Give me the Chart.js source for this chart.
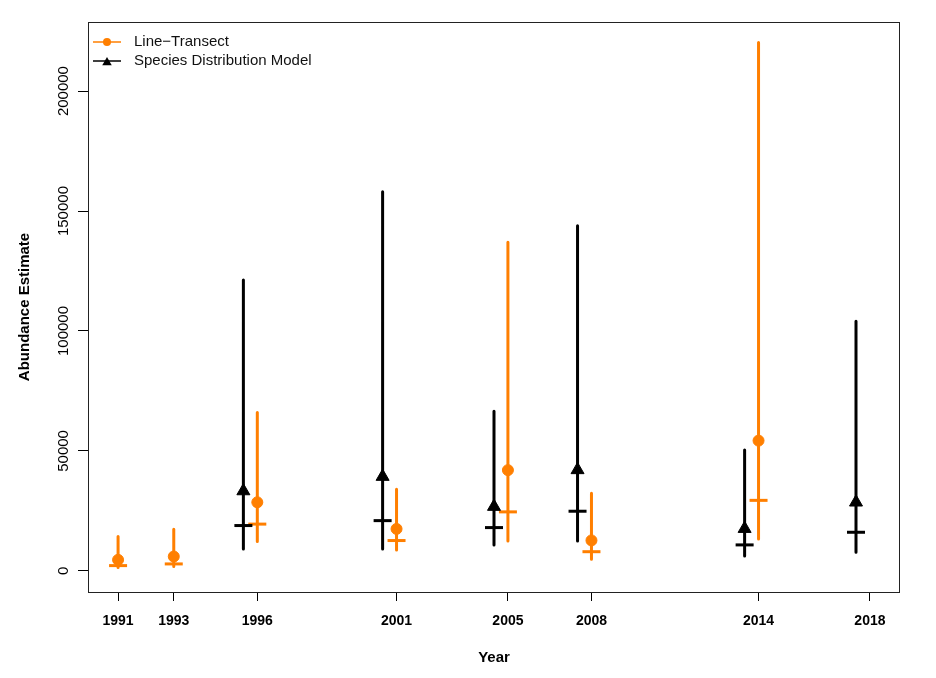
<!DOCTYPE html>
<html>
<head>
<meta charset="utf-8">
<script src="https://cdn.jsdelivr.net/npm/chart.js@4.4.1/dist/chart.umd.min.js"></script>
<style>
  html, body { margin: 0; padding: 0; background: #fff; }
  #wrap { width: 936px; height: 678px; }
</style>
</head>
<body>
<div id="wrap"><canvas id="grafico" width="936" height="678"></canvas></div>
<script>
// Anos de amostragem (eixo x)
const anos = [1991, 1993, 1996, 2001, 2005, 2008, 2014, 2018];
const yTicks = [0, 50000, 100000, 150000, 200000];

// Line-Transect
const anosLT = [1991, 1993, 1996, 2001, 2005, 2008, 2014];
const mediaLT = [4600, 6000, 28600, 17500, 42000, 12700, 54300];
const medianaLT = [2200, 2900, 19500, 12650, 24600, 8000, 29400];
const inferiorLT = [1400, 1800, 12200, 8750, 12500, 4900, 13300];
const superiorLT = [14300, 17400, 66000, 34000, 137000, 32400, 220300];

// Species Distribution Model
const anosSDM = [1996, 2001, 2005, 2008, 2014, 2018];
const mediaSDM = [33300, 39300, 26800, 42100, 17600, 28600];
const medianaSDM = [18900, 20950, 18050, 24870, 10830, 16100];
const inferiorSDM = [9170, 9170, 10830, 12500, 6250, 7790];
const superiorSDM = [121250, 158000, 66500, 143900, 50400, 104100];

const nomeLT = 'Line\u2212Transect';
const nomeSDM = 'Species Distribution Model';

const laranja = '#FF7F00';
const preto = '#000000';
const fonte = "'Liberation Sans', Arial, sans-serif";
const desloc = -0.5; // SDM desenhado meio ano antes

// pares (x, inferior) -> (x, superior) separados por null
function segmentos(xs, lo, hi, dx) {
    const out = [];
    xs.forEach((x, i) => {
        out.push({ x: x + dx, y: lo[i] });
        out.push({ x: x + dx, y: hi[i] });
        out.push({ x: x + dx, y: null });
    });
    return out;
}
function pontos(xs, ys, dx) {
    return xs.map((x, i) => ({ x: x + dx, y: ys[i] }));
}

// Caixa em volta da área do gráfico
const caixa = {
    id: 'caixa',
    afterDraw(chart) {
        const a = chart.chartArea;
        const ctx = chart.ctx;
        ctx.save();
        ctx.strokeStyle = '#222';
        ctx.lineWidth = 1;
        ctx.strokeRect(Math.round(a.left) + 0.5, Math.round(a.top) + 0.5,
            Math.round(a.right - a.left) - 1, Math.round(a.bottom - a.top));
        ctx.restore();
    }
};

// Legenda no canto superior esquerdo (estilo R: linha + símbolo)
const legenda = {
    id: 'legenda',
    afterDraw(chart) {
        const a = chart.chartArea;
        const ctx = chart.ctx;
        const itens = [
            { texto: nomeLT, cor: laranja, estilo: 'circle', raio: 4 },
            { texto: nomeSDM, cor: preto, estilo: 'triangle', raio: 5.5 }
        ];
        ctx.save();
        itens.forEach((it, i) => {
            const y = a.top + 20 + i * 19;
            const x0 = a.left + 5;
            ctx.strokeStyle = it.cor;
            ctx.lineWidth = 1.5;
            ctx.beginPath();
            ctx.moveTo(x0, y);
            ctx.lineTo(x0 + 28, y);
            ctx.stroke();
            ctx.fillStyle = it.cor;
            Chart.helpers.drawPoint(ctx, { pointStyle: it.estilo, radius: it.raio, borderWidth: 0, rotation: 0 },
                x0 + 14, it.estilo === 'triangle' ? y + 1.5 : y);
            ctx.fillStyle = '#111';
            ctx.font = '15px ' + fonte;
            ctx.textBaseline = 'middle';
            ctx.textAlign = 'left';
            ctx.fillText(it.texto, x0 + 41, y);
        });
        ctx.restore();
    }
};

const ctx = document.getElementById('grafico').getContext('2d');
const grafico = new Chart(ctx, {
    type: 'scatter',
    data: {
        datasets: [
            {
                type: 'line',
                label: nomeSDM + ' IC',
                data: segmentos(anosSDM, inferiorSDM, superiorSDM, desloc),
                borderColor: preto,
                borderWidth: 3,
                borderCapStyle: 'round',
                pointRadius: 0,
                spanGaps: false,
                order: 3
            },
            {
                type: 'line',
                label: nomeLT + ' IC',
                data: segmentos(anosLT, inferiorLT, superiorLT, 0),
                borderColor: laranja,
                borderWidth: 3,
                borderCapStyle: 'round',
                pointRadius: 0,
                spanGaps: false,
                order: 3
            },
            {
                label: nomeSDM + ' mediana',
                data: pontos(anosSDM, medianaSDM, desloc),
                pointStyle: 'line',
                pointRadius: 9,
                borderColor: preto,
                borderWidth: 3,
                order: 2
            },
            {
                label: nomeLT + ' mediana',
                data: pontos(anosLT, medianaLT, 0),
                pointStyle: 'line',
                pointRadius: 9,
                borderColor: laranja,
                borderWidth: 3,
                order: 2
            },
            {
                label: nomeSDM,
                data: pontos(anosSDM, mediaSDM, desloc),
                pointStyle: 'triangle',
                pointRadius: 7.5,
                backgroundColor: preto,
                borderColor: preto,
                borderWidth: 1,
                order: 1
            },
            {
                label: nomeLT,
                data: pontos(anosLT, mediaLT, 0),
                pointStyle: 'circle',
                pointRadius: 5.5,
                backgroundColor: laranja,
                borderColor: laranja,
                borderWidth: 1,
                order: 1
            }
        ]
    },
    options: {
        responsive: false,
        animation: false,
        events: [],
        layout: { padding: { left: 0, top: 22, right: 36, bottom: 0 } },
        plugins: {
            legend: { display: false },
            tooltip: { enabled: false }
        },
        scales: {
            x: {
                type: 'linear',
                min: 1989.92,
                max: 2019.08,
                afterBuildTicks: (s) => { s.ticks = anos.map(v => ({ value: v })); },
                afterFit: (s) => { s.height = 86; },
                grid: { drawOnChartArea: false, drawTicks: true, tickLength: 9, color: '#000' },
                border: { display: false },
                ticks: {
                    padding: 12,
                    color: '#000',
                    font: { family: fonte, size: 14, weight: 'bold' },
                    callback: (v) => String(v),
                    maxRotation: 0,
                    autoSkip: false
                },
                title: {
                    display: true,
                    text: 'Year',
                    color: '#000',
                    font: { family: fonte, size: 15, weight: 'bold' },
                    padding: { top: 0, bottom: 11 }
                }
            },
            y: {
                min: -8800,
                max: 228800,
                afterBuildTicks: (s) => { s.ticks = yTicks.map(v => ({ value: v })); },
                afterFit: (s) => { s.width = 88; },
                grid: { drawOnChartArea: false, drawTicks: true, tickLength: 10, color: '#000' },
                border: { display: false },
                ticks: {
                    padding: -11,
                    color: '#000',
                    minRotation: 90,
                    maxRotation: 90,
                    crossAlign: 'center',
                    font: { family: fonte, size: 15 },
                    callback: (v) => String(v)
                },
                title: {
                    display: true,
                    text: 'Abundance Estimate',
                    color: '#000',
                    font: { family: fonte, size: 15, weight: 'bold' },
                    padding: { top: 16, bottom: 0 }
                }
            }
        }
    },
    plugins: [caixa, legenda]
});
</script>
</body>
</html>
